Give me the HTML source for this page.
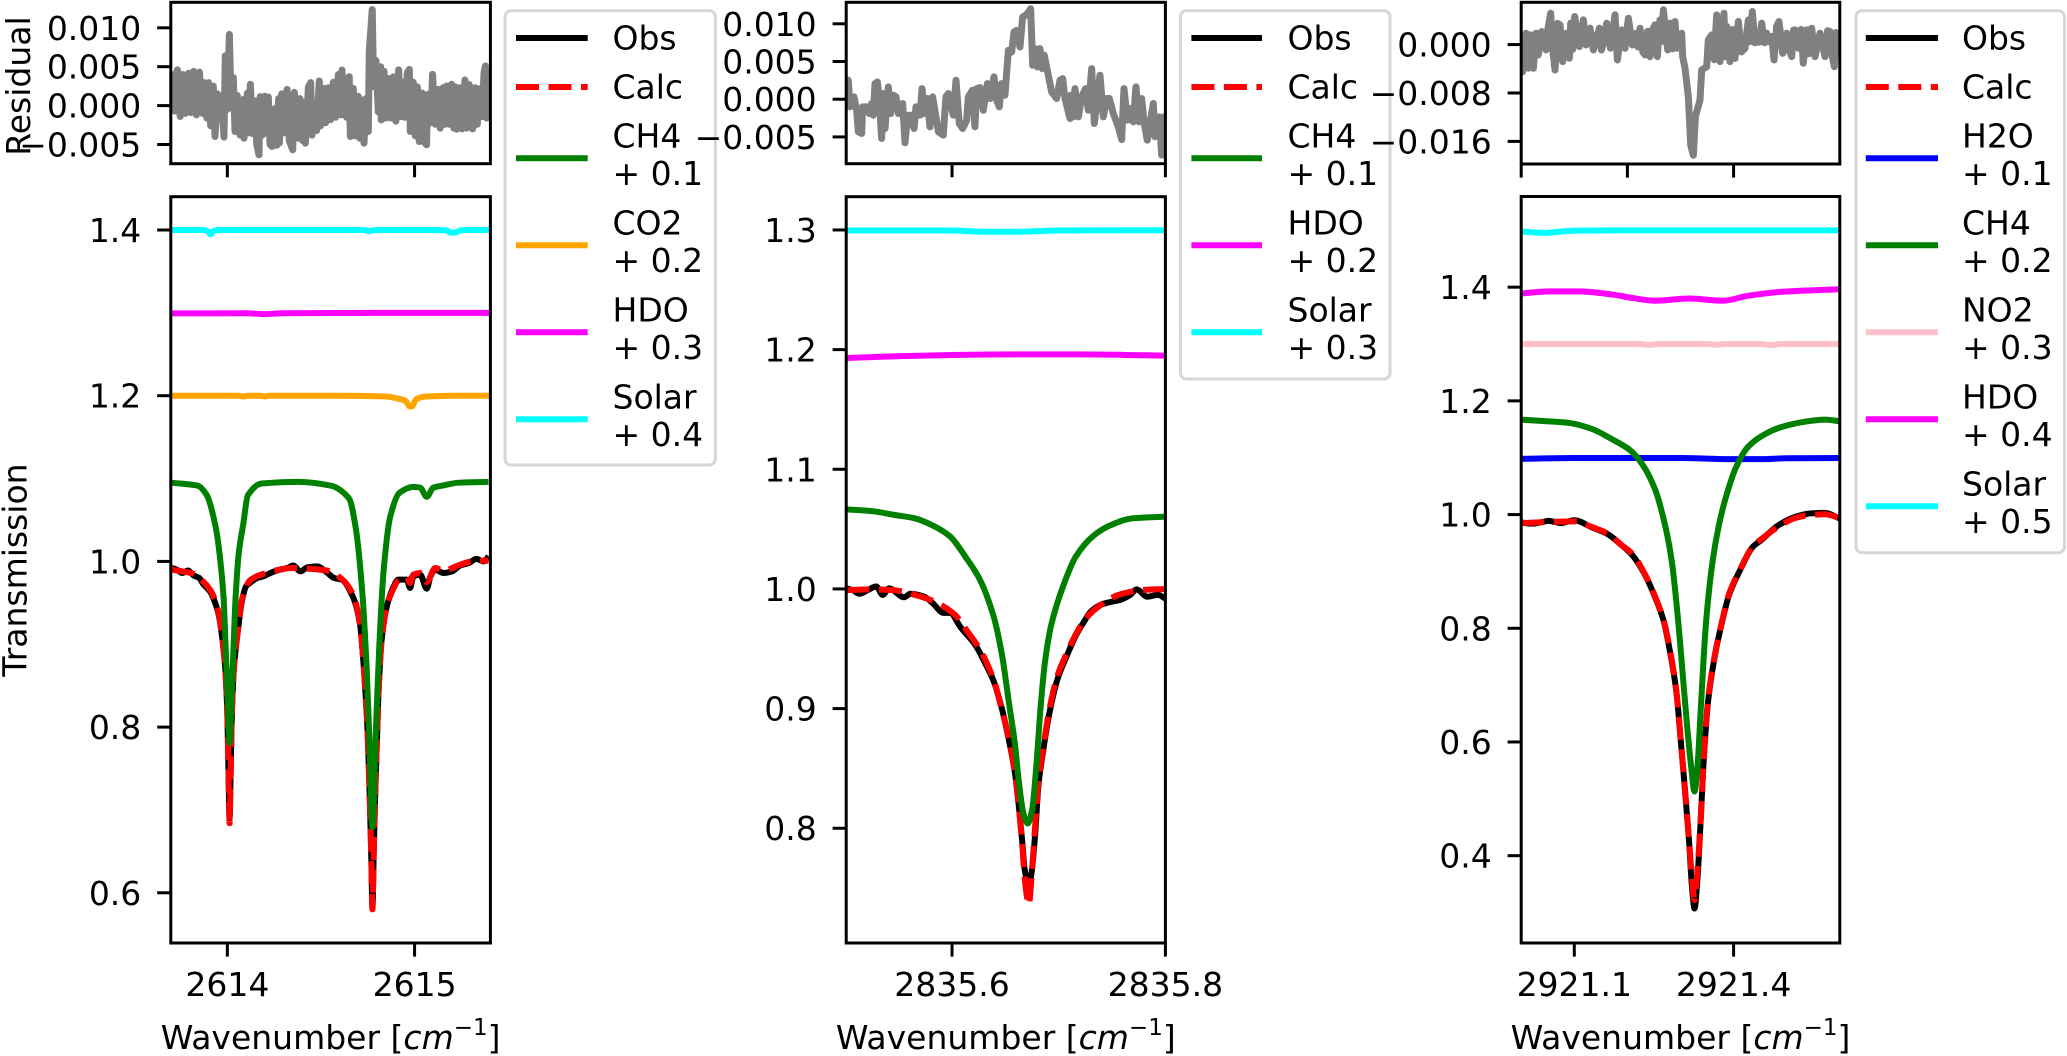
<!DOCTYPE html>
<html lang="en">
<head>
<meta charset="utf-8">
<title>Transmission spectra fits</title>
<style>
html,body{margin:0;padding:0;background:#fff;}
svg{display:block;}
text{font-family:"DejaVu Sans","Liberation Sans",sans-serif;font-size:33px;fill:#000;}
</style>
</head>
<body>
<svg id="chart" xmlns="http://www.w3.org/2000/svg" width="2067" height="1056" viewBox="0 0 2067 1056"></svg>
<script>
// ---------- Panel 1 data (wavenumber offsets from 2614; residuals in units of 1e-3) ----------
const p1Base = 2614;
const p1XTicks = [0, 1];
const p1XTickLabels = ['2614', '2615'];
const p1YTicks = [1.4, 1.2, 1.0, 0.8, 0.6];
const p1YTickLabels = ['1.4', '1.2', '1.0', '0.8', '0.6'];
const p1ResTicks = [10, 5, 0, -5];
const p1ResTickLabels = ['0.010', '0.005', '0.000', '\u22120.005'];
const p1ObsWn = [-.297,-.27,-.24,-.21,-.18,-.15,-.13,-.09,-.065,-.05,-.04,-.03,-.02,-.012,-.005,0,.005,.009,.012,.015,.019,.024,.036,.054,.077,.1,.121,.16,.192,.24,.28,.32,.352,.39,.43,.48,.53,.57,.61,.673,.708,.726,.74,.75,.76,.768,.775,.782,.79,.8,.806,.824,.851,.887,.913,.958,.976,.994,1.03,1.065,1.085,1.11,1.154,1.2,1.243,1.29,1.33,1.37,1.395];
const p1ObsVal = [.992,.99,.986,.989,.983,.98,.973,.963,.95,.939,.928,.912,.893,.873,.845,.815,.76,.71,.69,.715,.76,.815,.873,.912,.951,.97,.974,.98,.982,.987,.99,.992,.995,.988,.993,.994,.987,.98,.978,.956,.925,.881,.833,.79,.72,.65,.585,.65,.72,.79,.833,.905,.945,.969,.978,.978,.968,.982,.984,.967,.982,.99,.986,.988,.995,.998,1.003,1.0,1.006];
const p1CalcWn = [-.297,-.24,-.18,-.13,-.09,-.065,-.05,-.04,-.03,-.02,-.012,-.005,0,.005,.009,.012,.015,.019,.024,.036,.054,.077,.121,.192,.352,.53,.61,.673,.708,.726,.74,.75,.76,.768,.775,.782,.79,.8,.806,.824,.851,.887,.913,.958,.976,.994,1.03,1.065,1.11,1.154,1.243,1.33,1.395];
const p1CalcVal = [.99,.988,.985,.976,.965,.953,.941,.929,.913,.893,.873,.845,.817,.76,.71,.684,.71,.76,.817,.875,.913,.953,.977,.985,.992,.989,.979,.959,.925,.881,.833,.79,.72,.65,.58,.65,.72,.79,.833,.905,.945,.967,.977,.981,.974,.984,.986,.975,.992,.989,.996,1.001,1.001];
const p1CH4Wn = [-.30,-.16,-.11,-.061,-.037,-.02,-.008,.004,.012,.02,.032,.044,.061,.085,.11,.183,.38,.55,.65,.686,.72,.745,.758,.775,.792,.81,.834,.87,.92,.995,1.03,1.065,1.10,1.15,1.235,1.395];
const p1CH4Val = [1.095,1.0915,1.08,1.04,1.0,.956,.89,.823,.781,.823,.89,.956,1.01,1.045,1.08,1.094,1.096,1.0915,1.076,1.04,.965,.867,.788,.679,.788,.89,.987,1.054,1.083,1.09,1.089,1.078,1.089,1.0915,1.095,1.096];
const p1CO2Wn = [-.3,.06,.085,.11,.18,.2,.22,.6,.85,.9,.95,.975,.985,1.01,1.06,1.2,1.4];
const p1CO2Val = [1.2,1.2,1.199,1.2,1.2,1.199,1.2,1.2,1.199,1.197,1.194,1.187,1.187,1.196,1.199,1.2,1.2];
const p1HDOWn = [-.3,.1,.2,.3,.8,1.4];
const p1HDOVal = [1.2993,1.2995,1.2985,1.2995,1.3,1.3];
const p1SolarWn = [-.3,-.13,-.105,-.09,-.075,-.05,.3,.7,.74,.755,.775,.81,1.1,1.17,1.195,1.215,1.245,1.3,1.4];
const p1SolarVal = [1.4,1.4,1.3985,1.3948,1.3985,1.4,1.4,1.4,1.3995,1.3985,1.3995,1.4,1.4,1.3995,1.3968,1.3968,1.3995,1.4,1.4];
const p1ResWn = [-.295,-.281,-.267,-.252,-.238,-.224,-.208,-.194,-.18,-.165,-.149,-.133,-.124,-.11,-.1,-.089,-.075,-.066,-.053,-.043,-.032,-.018,-.011,-.002,.011,.02,.032,.041,.053,.068,.086,.089,.107,.114,.123,.134,.148,.157,.169,.175,.187,.199,.207,.219,.228,.239,.255,.264,.274,.278,.29,.303,.319,.331,.349,.358,.379,.388,.402,.409,.417,.433,.445,.452,.468,.477,.491,.498,.513,.525,.539,.552,.566,.578,.593,.605,.612,.625,.630,.637,.651,.657,.673,.683,.699,.708,.723,.73,.74,.753,.758,.774,.781,.794,.806,.819,.822,.837,.847,.860,.872,.886,.9,.915,.925,.94,.947,.961,.972,.977,.993,1.004,1.015,1.025,1.041,1.052,1.064,1.07,1.086,1.096,1.111,1.127,1.137,1.153,1.162,1.171,1.185,1.198,1.21,1.217,1.226,1.239,1.253,1.269,1.278,1.292,1.31,1.324,1.335,1.349,1.36,1.371,1.378,1.385,1.394,1.403];
const p1ResVal = [4.0,-.7,4.6,-1.4,4.0,-1.0,4.15,-.9,4.4,-1.2,4.3,-1.0,2.95,-1.6,2.95,-2.6,2.5,-3.97,1.5,-1.4,1.2,-4.06,6.4,-.5,9.15,-.3,3.6,-3.33,1.3,-3.8,.8,-4.19,1.6,-3.5,2.74,-3.6,.6,-5,-6.32,1.15,-3.8,1.2,-3.5,1.1,-5,-5.26,-.38,-5.1,.9,-4.8,1.5,-3.5,2.09,-4.5,-5.68,1.7,-4.19,.9,-4.5,.4,-4.83,2.4,2.95,-3.8,.38,-3.2,3.16,-2.6,2.2,-2.2,2.3,-1.8,3,-1.5,4,-1.2,4.57,-1.2,2.5,-1.5,3.72,-3.97,2.2,-3.9,1.2,-4.2,.7,-4.83,.9,-3.33,7,12.35,2.44,5.8,-.8,5,-1.84,4.4,-1.6,3.46,-1.6,3.7,-2,4.6,-1.4,3,-1.5,4.2,4.66,-3.33,3,-3.9,2.4,-4.62,1.6,-4.7,-5.04,1.45,-2.2,4.02,-2.4,2.09,-2.9,2.3,-2.4,2.52,-2.4,2.74,-2.9,2.4,-3.03,2.3,-3,3.29,-2.9,2.7,-3,2.3,-2.4,2.18,-1.41,4.2,5.09,-1.6,2.9,-1.6];

// ---------- Panel 2 data (wavenumber offsets from 2835) ----------
const p2Base = 2835;
const p2XTicks = [.6, .8];
const p2XTickLabels = ['2835.6', '2835.8'];
const p2YTicks = [1.3, 1.2, 1.1, 1.0, 0.9, 0.8];
const p2YTickLabels = ['1.3', '1.2', '1.1', '1.0', '0.9', '0.8'];
const p2ResTicks = [10, 5, 0, -5];
const p2ResTickLabels = ['0.010', '0.005', '0.000', '\u22120.005'];
const p2ObsWn = [.501,.507,.513,.521,.529,.535,.541,.555,.561,.574,.582,.592,.598,.608,.622,.631,.639,.647,.653,.659,.663,.666,.668,.670,.673,.675,.678,.681,.685,.691,.699,.708,.716,.724,.730,.740,.748,.758,.767,.773,.783,.793,.800];
const p2ObsVal = [1.0005,.999,.996,.999,1.002,.995,1.0005,.993,.996,.9935,.988,.980,.980,.968,.953,.938,.923,.899,.875,.846,.815,.787,.766,.758,.756,.766,.796,.836,.862,.895,.925,.945,.961,.973,.981,.987,.989,.991,.995,.9996,.9935,.995,.992];
const p2CalcWn = [.501,.525,.545,.561,.582,.602,.614,.627,.639,.647,.653,.659,.663,.666,.668,.670,.672,.674,.677,.681,.685,.691,.699,.708,.716,.726,.740,.756,.777,.800];
const p2CalcVal = [.999,.9996,.999,.996,.990,.979,.965,.948,.924,.898,.876,.846,.815,.784,.760,.744,.736,.753,.790,.839,.864,.898,.928,.947,.962,.976,.987,.995,.999,1.0];
const p2CH4Wn = [.501,.525,.545,.565,.582,.598,.614,.626,.639,.647,.653,.659,.663,.667,.671,.675,.679,.683,.687,.693,.704,.716,.732,.748,.769,.800];
const p2CH4Val = [1.0665,1.065,1.062,1.059,1.053,1.044,1.025,1.008,.977,.944,.907,.870,.836,.812,.804,.815,.852,.901,.938,.970,1.002,1.027,1.044,1.053,1.059,1.0604];
const p2HDOWn = [.501,.55,.6,.66,.72,.78,.80];
const p2HDOVal = [1.193,1.1945,1.1955,1.196,1.196,1.1953,1.195];
const p2SolarWn = [.501,.60,.63,.66,.70,.80];
const p2SolarVal = [1.2995,1.2995,1.2985,1.2985,1.2995,1.2998];
const p2ResWn = [.5028,.5044,.5081,.5106,.5122,.5153,.5162,.52,.5225,.5247,.5262,.5278,.53,.5319,.534,.5356,.5372,.5403,.5425,.545,.5475,.5497,.5537,.5559,.5584,.5612,.5644,.5662,.57,.5719,.574,.5768,.5793,.5818,.5872,.5918,.5943,.5965,.6012,.6037,.6068,.61,.6137,.6153,.619,.6215,.6231,.6262,.6293,.6331,.6356,.6393,.6418,.6443,.6465,.6496,.6528,.6559,.6581,.6606,.6637,.6662,.67,.6737,.6756,.6778,.68,.6824,.6846,.6865,.6902,.6934,.6981,.7012,.7037,.7059,.7106,.7112,.7137,.7152,.7184,.7215,.7252,.7277,.7309,.7334,.7355,.7387,.7418,.7449,.7474,.7512,.7559,.759,.7612,.7643,.7668,.7699,.7724,.7752,.7777,.7802,.783,.7887,.7902,.7943,.7965,.7987];
const p2ResVal = [2.51,-1.01,.31,-1.46,-4.32,-4.54,-1.01,-1.01,-1.9,-.57,-2.12,2.07,2.29,-.13,-5.21,.75,-3.88,1.63,-1.9,.53,.31,-1.9,-.57,-5.78,-2.12,-2.12,-3.88,-1.01,-2.12,1.41,-1.9,.09,-3.66,.31,-4.32,-4.76,.31,.75,-2.12,2.51,-3.22,-3.88,-2.78,.31,1.19,-3.66,1.41,1.54,-1.46,2.07,.09,2.96,-.13,-1.01,2.07,.53,6.48,6.26,8.91,9.13,6.93,10.9,11.25,12.0,4.5,6.7,4.28,6.7,4.06,5.82,3.18,.97,.09,2.51,2.73,.09,-2.56,.53,-2.34,1.41,-2.34,.31,1.41,-1.46,4.06,-3.22,-.57,3.18,-2.34,.09,.09,-1.9,-3.66,-5.34,1.41,-2.78,-1.24,-3.0,1.63,-3.0,.09,-3.22,-5.43,-.57,-4.98,-2.34,-7.41,-2.34];

// ---------- Panel 3 data (wavenumber offsets from 2921) ----------
const p3Base = 2921;
const p3XTicks = [.1, .4];
const p3XTickLabels = ['2921.1', '2921.4'];
const p3ResXTicks = [0, .2, .4];
const p3YTicks = [1.4, 1.2, 1.0, 0.8, 0.6, 0.4];
const p3YTickLabels = ['1.4', '1.2', '1.0', '0.8', '0.6', '0.4'];
const p3ResTicks = [0, -8, -16];
const p3ResTickLabels = ['0.000', '\u22120.008', '\u22120.016'];
const p3ObsWn = [0,.02,.04,.052,.075,.1,.132,.164,.188,.208,.232,.252,.268,.28,.292,.30,.308,.316,.3216,.3264,.332,.3376,.344,.352,.364,.376,.392,.412,.436,.452,.484,.516,.544,.572,.6];
const p3ObsVal = [.986,.984,.987,.989,.985,.990,.978,.965,.947,.93,.896,.855,.814,.76,.69,.608,.52,.427,.345,.307,.36,.455,.572,.672,.748,.802,.86,.902,.943,.955,.981,.996,1.002,1.003,.993];
const p3CalcWn = [0,.052,.1,.132,.164,.188,.208,.232,.252,.268,.28,.292,.30,.308,.316,.3216,.3264,.332,.3376,.344,.352,.364,.376,.392,.412,.436,.452,.484,.516,.544,.572,.6];
const p3CalcVal = [.985,.987,.988,.9786,.966,.947,.932,.897,.856,.815,.762,.691,.609,.521,.428,.36,.322,.375,.457,.574,.674,.75,.803,.862,.903,.944,.9566,.9786,.994,.9993,1.0005,.994];
const p3H2OWn = [0,.1,.3,.4,.45,.5,.6];
const p3H2OVal = [1.098,1.0995,1.0995,1.0975,1.0975,1.099,1.0995];
const p3CH4Wn = [0,.052,.092,.132,.172,.204,.228,.252,.272,.284,.296,.304,.312,.32,.3264,.332,.3384,.348,.36,.372,.384,.404,.428,.46,.492,.532,.572,.6];
const p3CH4Val = [1.167,1.164,1.161,1.151,1.132,1.114,1.0885,1.0445,.977,.915,.809,.721,.633,.557,.513,.557,.662,.809,.915,.98,1.0257,1.082,1.12,1.142,1.1545,1.163,1.167,1.164];
const p3NO2Wn = [0,.22,.24,.26,.35,.368,.385,.45,.47,.49,.6];
const p3NO2Val = [1.3,1.3,1.2985,1.3,1.3,1.2988,1.3,1.3,1.2982,1.3,1.3];
const p3HDOWn = [0,.052,.108,.172,.212,.252,.316,.38,.428,.492,.6];
const p3HDOVal = [1.3888,1.3926,1.3926,1.387,1.3806,1.3762,1.38,1.3762,1.385,1.392,1.3964];
const p3SolarWn = [0,.03,.046,.07,.1,.2,.6];
const p3SolarVal = [1.498,1.496,1.4955,1.4975,1.4995,1.5,1.5];
const p3ResWn = [.0028,.0091,.0135,.0179,.0229,.0279,.0323,.0386,.0467,.051,.0555,.0596,.0637,.0684,.0731,.0781,.0844,.0907,.0932,.097,.1007,.1095,.117,.122,.1296,.1359,.1472,.151,.1547,.161,.168,.1767,.1811,.1892,.1955,.2018,.2093,.2162,.22,.2238,.229,.2332,.238,.2426,.2457,.252,.2564,.2614,.2645,.2677,.2759,.2803,.285,.2897,.2928,.3022,.3041,.3085,.3148,.3192,.3242,.328,.3367,.3399,.3493,.3524,.3587,.3635,.3681,.3744,.3819,.384,.387,.3932,.398,.4027,.4089,.415,.4215,.4278,.431,.4353,.44,.4435,.448,.4529,.458,.4623,.467,.4717,.4761,.481,.4855,.4924,.5,.505,.5094,.513,.5157,.5219,.527,.5313,.5376,.542,.547,.5533,.5627,.5721,.577,.5816,.586,.5897,.593,.5954];
const p3ResVal = [-4.48,1.88,-3.92,1.6,-3.92,1.88,-1.71,2.15,-.88,3,5.19,-1,-4.2,3.5,3.26,-2.82,1.88,-2.27,3.54,-.8,4.64,-.33,4.09,-.06,2.71,-.88,2.71,-.9,.22,3.54,-.6,4.92,-2.54,2.43,-.61,4.36,-.06,1.88,-.4,2.71,-1.2,-1.71,2.2,-1.99,2.15,3.26,-1.99,4.09,.5,5.75,-.88,3.54,-.7,3.81,-.61,1.88,-1.99,-3.92,-8.62,-16.63,-18.29,-11.93,-9.17,-4.2,-3.65,.77,1.6,-2.5,4.92,-2.82,5.19,-2,3,-2.82,2.5,-2.27,3.81,-1.2,-.61,4.09,.5,5.47,.3,1.05,.4,3.54,.3,1.88,.5,1.33,-2.54,3,3.81,-1.44,1.88,-1,-1.99,2.4,2.43,-.61,2.5,-3.09,2.43,-1.5,2.71,-1.99,1.88,-1.99,2.3,2.15,-2,-3.65,2,-.88];

// ---------- Panel configuration ----------
const panels = [
  { left:170.8, right:490.4, xlim:[2613.698,2615.405], mainTop:196.7, mainBottom:943, ylim:[.5394,1.4402], resTop:2.3, resBottom:163.7, reslim:[-7.47,13.28],
    base:p1Base, xTicks:p1XTicks, xLabels:p1XTickLabels, resXTicks:p1XTicks, yTicks:p1YTicks, yLabels:p1YTickLabels, resTicks:p1ResTicks, resLabels:p1ResTickLabels, resWn:p1ResWn, resVal:p1ResVal,
    legend:{x:505,y:10.7,w:210.3,h:454.3,lineX:516,lineEnd:587.7,textX:612.5},
    series:[
      {name:'Obs',off:'',color:'#000000',wn:p1ObsWn,val:p1ObsVal},
      {name:'Calc',off:'',color:'#ff0000',dash:true,wn:p1CalcWn,val:p1CalcVal},
      {name:'CH4',off:'+ 0.1',color:'#008000',wn:p1CH4Wn,val:p1CH4Val},
      {name:'CO2',off:'+ 0.2',color:'#ffa500',wn:p1CO2Wn,val:p1CO2Val},
      {name:'HDO',off:'+ 0.3',color:'#ff00ff',wn:p1HDOWn,val:p1HDOVal},
      {name:'Solar',off:'+ 0.4',color:'#00ffff',wn:p1SolarWn,val:p1SolarVal}
    ]},
  { left:846.2, right:1165.4, xlim:[2835.5008,2835.8], mainTop:196.7, mainBottom:943, ylim:[.7041,1.3278], resTop:2.3, resBottom:163.7, reslim:[-8.55,12.85],
    base:p2Base, xTicks:p2XTicks, xLabels:p2XTickLabels, resXTicks:p2XTicks, yTicks:p2YTicks, yLabels:p2YTickLabels, resTicks:p2ResTicks, resLabels:p2ResTickLabels, resWn:p2ResWn, resVal:p2ResVal,
    legend:{x:1180.5,y:10.7,w:209.5,h:368.3,lineX:1191.4,lineEnd:1262,textX:1287.5},
    series:[
      {name:'Obs',off:'',color:'#000000',wn:p2ObsWn,val:p2ObsVal},
      {name:'Calc',off:'',color:'#ff0000',dash:true,wn:p2CalcWn,val:p2CalcVal},
      {name:'CH4',off:'+ 0.1',color:'#008000',wn:p2CH4Wn,val:p2CH4Val},
      {name:'HDO',off:'+ 0.2',color:'#ff00ff',wn:p2HDOWn,val:p2HDOVal},
      {name:'Solar',off:'+ 0.3',color:'#00ffff',wn:p2SolarWn,val:p2SolarVal}
    ]},
  { left:1521.2, right:1839.8, xlim:[2921.0,2921.6], mainTop:196.5, mainBottom:943, ylim:[.2464,1.5595], resTop:2.3, resBottom:164, reslim:[-19.74,6.99],
    base:p3Base, xTicks:p3XTicks, xLabels:p3XTickLabels, resXTicks:p3ResXTicks, yTicks:p3YTicks, yLabels:p3YTickLabels, resTicks:p3ResTicks, resLabels:p3ResTickLabels, resWn:p3ResWn, resVal:p3ResVal,
    legend:{x:1856,y:10.7,w:208.4,h:542,lineX:1865.8,lineEnd:1938,textX:1962},
    series:[
      {name:'Obs',off:'',color:'#000000',wn:p3ObsWn,val:p3ObsVal},
      {name:'Calc',off:'',color:'#ff0000',dash:true,wn:p3CalcWn,val:p3CalcVal},
      {name:'H2O',off:'+ 0.1',color:'#0000ff',wn:p3H2OWn,val:p3H2OVal},
      {name:'CH4',off:'+ 0.2',color:'#008000',wn:p3CH4Wn,val:p3CH4Val},
      {name:'NO2',off:'+ 0.3',color:'#ffc0cb',wn:p3NO2Wn,val:p3NO2Val},
      {name:'HDO',off:'+ 0.4',color:'#ff00ff',wn:p3HDOWn,val:p3HDOVal},
      {name:'Solar',off:'+ 0.5',color:'#00ffff',wn:p3SolarWn,val:p3SolarVal}
    ]}
];

// ---------- Drawing ----------
const NS = 'http://www.w3.org/2000/svg';
const svg = document.getElementById('chart');
const TICK = 13.6, SPINE = 3, LW = 6, RES_LW = 7;

function mk(tag, attrs, parent, text) {
  const el = document.createElementNS(NS, tag);
  for (const k in attrs) el.setAttribute(k, attrs[k]);
  if (text !== undefined) el.textContent = text;
  parent.appendChild(el);
  return el;
}
function scale(d0, d1, r0, r1) {
  return function (v) { return r0 + (v - d0) * (r1 - r0) / (d1 - d0); };
}
function pointsOf(xs, ys, sx, sy) {
  return xs.map(function (x, i) { return sx(x).toFixed(2) + ',' + sy(ys[i]).toFixed(2); }).join(' ');
}
// Monotone cubic path through the data points, so spectra render as smooth curves.
function curveOf(xs, ys, sx, sy) {
  const X = xs.map(sx), Y = ys.map(sy), n = X.length;
  const s = [], m = [];
  for (let i = 0; i < n - 1; i++) s.push((Y[i + 1] - Y[i]) / (X[i + 1] - X[i]));
  m.push(s[0]);
  for (let i = 1; i < n - 1; i++) {
    m.push(s[i - 1] * s[i] <= 0 ? 0 : 2 * s[i - 1] * s[i] / (s[i - 1] + s[i]));
  }
  m.push(s[n - 2]);
  let d = 'M' + X[0].toFixed(2) + ' ' + Y[0].toFixed(2);
  for (let i = 0; i < n - 1; i++) {
    const h = (X[i + 1] - X[i]) / 3;
    d += 'C' + (X[i] + h).toFixed(2) + ' ' + (Y[i] + m[i] * h).toFixed(2) + ' ' +
         (X[i + 1] - h).toFixed(2) + ' ' + (Y[i + 1] - m[i + 1] * h).toFixed(2) + ' ' +
         X[i + 1].toFixed(2) + ' ' + Y[i + 1].toFixed(2);
  }
  return d;
}

function drawPanel(p, idx) {
  const g = mk('g', {}, svg);
  
  

  const sx = scale(p.xlim[0], p.xlim[1], p.left, p.right);
  const sxo = function (o) { return sx(p.base + o); };
  const syMain = scale(p.ylim[0], p.ylim[1], p.mainBottom, p.mainTop);
  const syRes = scale(p.reslim[0], p.reslim[1], p.resBottom, p.resTop);

  // clip regions
  const defs = mk('defs', {}, g);
  const c1 = mk('clipPath', {id:'clip-res-' + idx}, defs);
  mk('rect', {x:p.left, y:p.resTop, width:p.right - p.left, height:p.resBottom - p.resTop}, c1);
  const c2 = mk('clipPath', {id:'clip-main-' + idx}, defs);
  mk('rect', {x:p.left, y:p.mainTop, width:p.right - p.left, height:p.mainBottom - p.mainTop}, c2);

  // residual line
  const res = mk('polyline', {points:pointsOf(p.resWn, p.resVal, sxo, syRes), fill:'none', stroke:'#808080', 'stroke-width':RES_LW, 'stroke-linejoin':'round', 'stroke-linecap':'round', 'clip-path':'url(#clip-res-' + idx + ')'}, g);
  
  

  // spectra
  p.series.forEach(function (s) {
    const attrs = {d:curveOf(s.wn, s.val, sxo, syMain), fill:'none', stroke:s.color, 'stroke-width':LW, 'stroke-linejoin':'round', 'clip-path':'url(#clip-main-' + idx + ')'};
    if (s.dash) attrs['stroke-dasharray'] = '23 9.5';
    const l = mk('path', attrs, g);
    
    
  });

  // spines
  const resBox = mk('rect', {x:p.left, y:p.resTop, width:p.right - p.left, height:p.resBottom - p.resTop, fill:'none', stroke:'#000', 'stroke-width':SPINE}, g);
  
  
  const mainBox = mk('rect', {x:p.left, y:p.mainTop, width:p.right - p.left, height:p.mainBottom - p.mainTop, fill:'none', stroke:'#000', 'stroke-width':SPINE}, g);
  
  

  // residual y ticks
  p.resTicks.forEach(function (t, i) {
    const y = syRes(t);
    const tk = mk('line', {x1:p.left - TICK, x2:p.left, y1:y, y2:y, stroke:'#000', 'stroke-width':SPINE}, g);
    
    
    const lb = mk('text', {x:p.left - 29.5, y:y + 12, 'text-anchor':'end'}, g, p.resLabels[i]);
    
    
  });
  // residual x ticks (no labels)
  p.resXTicks.forEach(function (t) {
    const x = sxo(t);
    const tk = mk('line', {x1:x, x2:x, y1:p.resBottom, y2:p.resBottom + TICK, stroke:'#000', 'stroke-width':SPINE}, g);
    
    
  });
  // main y ticks
  p.yTicks.forEach(function (t, i) {
    const y = syMain(t);
    const tk = mk('line', {x1:p.left - TICK, x2:p.left, y1:y, y2:y, stroke:'#000', 'stroke-width':SPINE}, g);
    
    
    const lb = mk('text', {x:p.left - 29.5, y:y + 12, 'text-anchor':'end'}, g, p.yLabels[i]);
    
    
  });
  // main x ticks
  p.xTicks.forEach(function (t, i) {
    const x = sxo(t);
    const tk = mk('line', {x1:x, x2:x, y1:p.mainBottom, y2:p.mainBottom + TICK, stroke:'#000', 'stroke-width':SPINE}, g);
    
    
    const lb = mk('text', {x:x, y:996, 'text-anchor':'middle'}, g, p.xLabels[i]);
    
    
  });

  // x axis title
  const xt = mk('text', {x:(p.left + p.right) / 2, y:1049, 'text-anchor':'middle'}, g);
  
  
  mk('tspan', {}, xt, 'Wavenumber [');
  mk('tspan', {'font-style':'italic'}, xt, 'cm');
  mk('tspan', {dy:-14, 'font-size':'23px'}, xt, '\u22121');
  mk('tspan', {dy:14}, xt, ']');

  // legend
  const lg = mk('g', {}, g);
  
  
  const L = p.legend;
  const box = mk('rect', {x:L.x, y:L.y, width:L.w, height:L.h, rx:6, ry:6, fill:'#fff', 'fill-opacity':.8, stroke:'#d6d6d6', 'stroke-width':3}, lg);
  
  
  let base = 49.5;
  p.series.forEach(function (s) {
    const ly = s.off ? base + 10.8 : base - 11.5;
    const attrs = {x1:L.lineX, x2:L.lineEnd, y1:ly, y2:ly, stroke:s.color, 'stroke-width':LW};
    if (s.dash) attrs['stroke-dasharray'] = '23 9.5';
    const sw = mk('line', attrs, lg);
    
    
    const t1 = mk('text', {x:L.textX, y:base}, lg, s.name);
    
    
    if (s.off) {
      const t2 = mk('text', {x:L.textX, y:base + 37.6}, lg, s.off);
      
      
      base += 87;
    } else {
      base += 49;
    }
  });
}

// y axis titles (panel 1 only), drawn first so tick labels sit above them
const yRes = mk('text', {transform:'translate(30,86) rotate(-90)', 'text-anchor':'middle'}, svg, 'Residual');


const yMain = mk('text', {transform:'translate(26.5,570) rotate(-90)', 'text-anchor':'middle'}, svg, 'Transmission');



panels.forEach(drawPanel);
</script>
</body>
</html>
